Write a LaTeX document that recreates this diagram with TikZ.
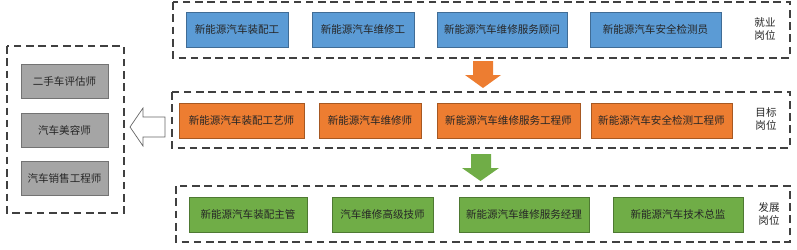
\documentclass[tikz,border=0pt]{standalone}
\usepackage{fontspec}
\usepackage{tikz}
\newfontfamily\cjk{Noto Sans CJK SC}
\definecolor{jobblue}{HTML}{5B9BD5}
\definecolor{goalorange}{HTML}{ED7D31}
\definecolor{devgreen}{HTML}{70AD47}
\definecolor{othergray}{HTML}{A5A5A5}

\begin{document}
\begin{tikzpicture}[
        x=0.03cm, y=-0.03cm,
        post/.style={rectangle, draw=#1!70!black, fill=#1, line width=0.7pt,
            minimum height=35*0.03cm, inner sep=0pt, font=\cjk\fontsize{9}{11}\selectfont,
            text=black!85},
        frame/.style={draw=black!75, line width=1.2pt, dash pattern=on 6.5pt off 4pt},
        tag/.style={align=center, font=\cjk\fontsize{9}{11}\selectfont, text=black!85,
            inner sep=0pt}
    ]
        \useasboundingbox (0,0) rectangle (797,249);

        % frames
        \draw[frame] (173,2) rectangle (790,58);
        \draw[frame] (172,92) rectangle (790,148);
        \draw[frame] (176,186) rectangle (790,242);
        \draw[frame] (7,46) rectangle (124,213);

        % employment posts
        \node[post=jobblue, minimum width=102*0.03cm] (j1) at (237,29.5) {新能源汽车装配工};
        \node[post=jobblue, minimum width=102*0.03cm] (j2) at (363,29.5) {新能源汽车维修工};
        \node[post=jobblue, minimum width=130*0.03cm] (j3) at (502,29.5) {新能源汽车维修服务顾问};
        \node[post=jobblue, minimum width=131*0.03cm] (j4) at (655.5,29.5) {新能源汽车安全检测员};
        \node[tag] (jtag) at (765,29) {就业\\岗位};

        % goal posts
        \node[post=goalorange, minimum width=125*0.03cm] (g1) at (241.5,120.5) {新能源汽车装配工艺师};
        \node[post=goalorange, minimum width=102*0.03cm] (g2) at (370,120.5) {新能源汽车维修师};
        \node[post=goalorange, minimum width=143*0.03cm] (g3) at (508.5,120.5) {新能源汽车维修服务工程师};
        \node[post=goalorange, minimum width=141*0.03cm] (g4) at (661.5,120.5) {新能源汽车安全检测工程师};
        \node[tag] (gtag) at (766,119) {目标\\岗位};

        % development posts
        \node[post=devgreen, minimum width=118*0.03cm] (d1) at (248,214.5) {新能源汽车装配主管};
        \node[post=devgreen, minimum width=101*0.03cm] (d2) at (382.5,214.5) {汽车维修高级技师};
        \node[post=devgreen, minimum width=130*0.03cm] (d3) at (524,214.5) {新能源汽车维修服务经理};
        \node[post=devgreen, minimum width=130*0.03cm] (d4) at (678,214.5) {新能源汽车技术总监};
        \node[tag] (dtag) at (769,214) {发展\\岗位};

        % other posts
        \node[post=othergray, minimum width=87*0.03cm, minimum height=34*0.03cm] (o1) at (64.5,81) {二手车评估师};
        \node[post=othergray, minimum width=87*0.03cm, minimum height=34*0.03cm] (o2) at (64.5,130) {汽车美容师};
        \node[post=othergray, minimum width=87*0.03cm, minimum height=34*0.03cm] (o3) at (64.5,178.5) {汽车销售工程师};

        % block arrows
        \fill[goalorange] (473,61) -- (493,61) -- (493,75) -- (501,75) -- (483,88)
            -- (465,75) -- (473,75) -- cycle;
        \fill[devgreen] (471,154) -- (491,154) -- (491,168) -- (499,168) -- (480.5,181)
            -- (462,168) -- (471,168) -- cycle;
        \draw[black!60, line width=0.6pt, fill=white] (165,117) -- (143,117) -- (143,108)
            -- (130,127) -- (143,146) -- (143,137) -- (165,137) -- cycle;
    \end{tikzpicture}
\end{document}
